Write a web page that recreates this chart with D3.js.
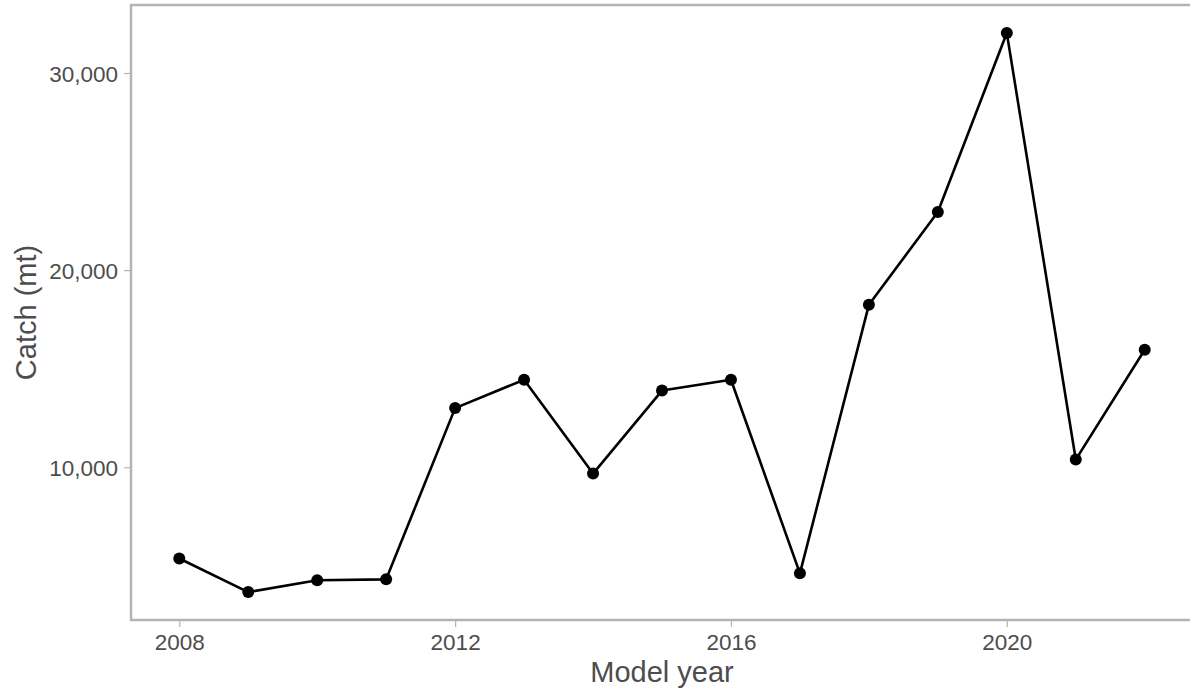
<!DOCTYPE html>
<html>
<head>
<meta charset="utf-8">
<script src="https://cdn.jsdelivr.net/npm/d3@7"></script>
<style>
  html, body { margin: 0; padding: 0; background: #fff; }
  svg { display: block; }
  text { font-family: "Liberation Sans", Arial, sans-serif; }
</style>
</head>
<body>
<svg id="chart" width="1190" height="694"></svg>
<script>
const years = [2008, 2009, 2010, 2011, 2012, 2013, 2014, 2015, 2016, 2017, 2018, 2019, 2020, 2021, 2022];
const catchMt = [5370, 3670, 4265, 4315, 13000, 14440, 9680, 13890, 14440, 4620, 18240, 22950, 32030, 10390, 15960];
const yTicks = [10000, 20000, 30000];
const xTicks = [2008, 2012, 2016, 2020];
const xTitle = "Model year";
const yTitle = "Catch (mt)";

const W = 1190, H = 694;
const m = { left: 131, right: -3, top: 5, bottom: 74 };
const svg = d3.select("#chart");

function expand(ext, f) {
  const r = ext[1] - ext[0];
  return [ext[0] - r * f, ext[1] + r * f];
}

const x = d3.scaleLinear()
  .domain(expand(d3.extent(years), 0.05))
  .range([m.left, W - m.right]);
const y = d3.scaleLinear()
  .domain(expand(d3.extent(catchMt), 0.05))
  .range([H - m.bottom, m.top]);

const data = years.map((yr, i) => ({ yr, v: catchMt[i] }));
const grey = "#b3b3b3";
const txt = "#4d4d4d";

// Axes
const xAxis = svg.append("g")
  .attr("transform", `translate(0,${H - m.bottom})`)
  .call(d3.axisBottom(x).tickValues(xTicks).tickFormat(d3.format("d")).tickSize(7).tickPadding(7));
const yAxis = svg.append("g")
  .attr("transform", `translate(${m.left},0)`)
  .call(d3.axisLeft(y).tickValues(yTicks).tickFormat(d3.format(",")).tickSize(7).tickPadding(6));
[xAxis, yAxis].forEach(g => {
  g.select(".domain").remove();
  g.selectAll(".tick line").attr("stroke", grey).attr("stroke-width", 1.2);
  g.selectAll(".tick text").attr("fill", txt).style("font-size", "22.5px")
    .style("font-family", '"Liberation Sans", Arial, sans-serif');
});
yAxis.selectAll(".tick text").attr("dy", "0.38em");

// Panel border
svg.append("rect")
  .attr("x", m.left).attr("y", m.top)
  .attr("width", (W - m.right) - m.left)
  .attr("height", (H - m.bottom) - m.top)
  .attr("fill", "none").attr("stroke", grey).attr("stroke-width", 2.5);

// Line
svg.append("path")
  .datum(data)
  .attr("fill", "none")
  .attr("stroke", "#000")
  .attr("stroke-width", 2.6)
  .attr("stroke-linejoin", "round")
  .attr("d", d3.line().x(d => x(d.yr)).y(d => y(d.v)));

// Points
svg.append("g").selectAll("circle")
  .data(data).join("circle")
  .attr("cx", d => x(d.yr)).attr("cy", d => y(d.v))
  .attr("r", 6).attr("fill", "#000");

// Titles
svg.append("text")
  .attr("x", 662).attr("y", 682)
  .attr("text-anchor", "middle").attr("fill", txt)
  .style("font-size", "29px").text(xTitle);
svg.append("text")
  .attr("transform", `translate(36,${(m.top + H - m.bottom) / 2}) rotate(-90)`)
  .attr("text-anchor", "middle").attr("fill", txt)
  .style("font-size", "29px").text(yTitle);
</script>
</body>
</html>
